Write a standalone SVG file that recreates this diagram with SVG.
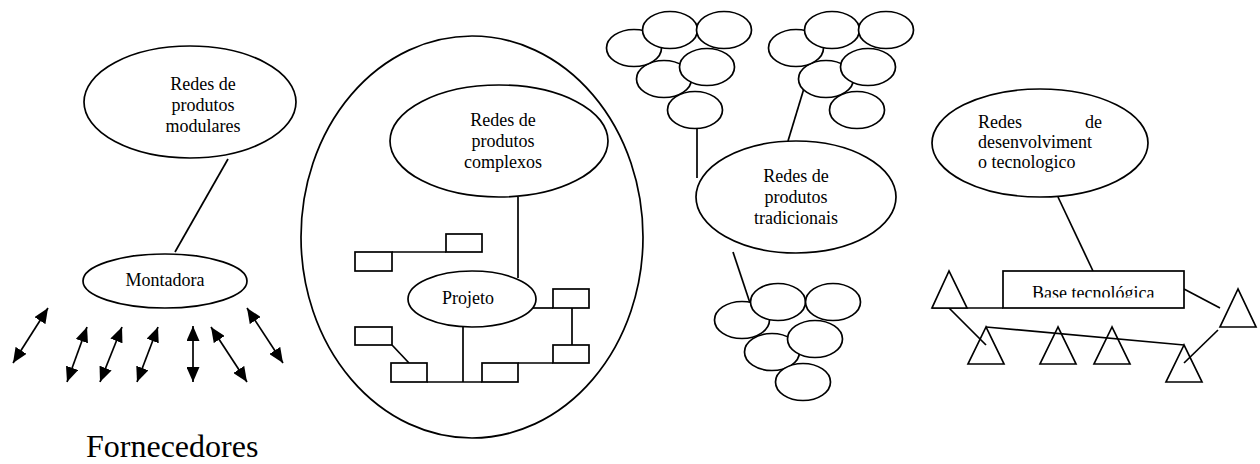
<svg xmlns="http://www.w3.org/2000/svg" width="1260" height="464" viewBox="0 0 1260 464">
<style>
.s{fill:#fff;stroke:#000;stroke-width:1.7}
.n{fill:none;stroke:#000;stroke-width:1.7}
.c{fill:none;stroke:#000;stroke-width:1.7}
.t{font-family:"Liberation Serif","Times New Roman",serif;font-size:18px;fill:#000}
.m{text-anchor:middle}
</style>
<defs>
<marker id="ah" viewBox="0 0 15 13" refX="15" refY="6.5" markerWidth="15" markerHeight="13" markerUnits="userSpaceOnUse" orient="auto-start-reverse">
<path d="M0,0 L15,6.5 L0,13 z" fill="#000"/>
</marker>
<clipPath id="baseclip"><rect x="1003" y="271" width="181" height="26.5"/></clipPath>
</defs>
<rect width="1260" height="464" fill="#fff"/>

<g id="big-ellipse"><ellipse class="n" cx="472" cy="237" rx="171" ry="201"/></g>

<g id="connectors">
<line class="c" x1="228" y1="159" x2="175" y2="252"/>
<line class="c" x1="518" y1="197" x2="518" y2="278"/>
<line class="c" x1="392" y1="252" x2="446" y2="252"/>
<line class="c" x1="533" y1="308" x2="553" y2="308"/>
<line class="c" x1="572" y1="308" x2="572" y2="345"/>
<line class="c" x1="392" y1="345" x2="409" y2="363"/>
<line class="c" x1="427" y1="382" x2="482" y2="382"/>
<line class="c" x1="463" y1="327" x2="463" y2="382"/>
<line class="c" x1="518" y1="363" x2="553" y2="363"/>
<line class="c" x1="697" y1="123" x2="697" y2="178"/>
<line class="c" x1="805" y1="85" x2="788" y2="141"/>
<line class="c" x1="733" y1="252" x2="750" y2="303"/>
<line class="c" x1="1058" y1="197" x2="1093" y2="271"/>
<line class="c" x1="932" y1="308" x2="1003" y2="308"/>
<line class="c" x1="949" y1="308" x2="986" y2="345"/>
<line class="c" x1="986" y1="327" x2="1184" y2="345"/>
<line class="c" x1="1184" y1="289" x2="1220" y2="308"/>
<line class="c" x1="1218" y1="330" x2="1184" y2="363"/>
<g id="fornecedor-arrows" marker-start="url(#ah)" marker-end="url(#ah)">
<line class="c" x1="13" y1="363" x2="48" y2="308" marker-start="url(#ah)" marker-end="url(#ah)"/>
<line class="c" x1="67" y1="382" x2="87" y2="327" marker-start="url(#ah)" marker-end="url(#ah)"/>
<line class="c" x1="100" y1="382" x2="122" y2="327" marker-start="url(#ah)" marker-end="url(#ah)"/>
<line class="c" x1="137" y1="382" x2="158" y2="327" marker-start="url(#ah)" marker-end="url(#ah)"/>
<line class="c" x1="193" y1="382" x2="193" y2="326" marker-start="url(#ah)" marker-end="url(#ah)"/>
<line class="c" x1="247" y1="382" x2="211" y2="327" marker-start="url(#ah)" marker-end="url(#ah)"/>
<line class="c" x1="283" y1="363" x2="247" y2="308" marker-start="url(#ah)" marker-end="url(#ah)"/>
</g>
</g>

<g id="modulares">
<ellipse class="s" cx="190" cy="102" rx="106" ry="56"/>
<text class="t m" x="203" y="90">Redes de</text>
<text class="t m" x="203" y="111">produtos</text>
<text class="t m" x="203" y="132">modulares</text>
</g>
<g id="montadora">
<ellipse class="s" cx="165" cy="281" rx="82" ry="27"/>
<text class="t m" x="165" y="286">Montadora</text>
</g>
<g id="fornecedores">
<text class="t" x="86" y="457" style="font-size:32px">Fornecedores</text>
</g>

<g id="complexos">
<ellipse class="s" cx="499" cy="141" rx="109" ry="56"/>
<text class="t m" x="503" y="126">Redes de</text>
<text class="t m" x="503" y="147">produtos</text>
<text class="t m" x="503" y="168">complexos</text>
</g>
<g id="projeto">
<ellipse class="s" cx="472" cy="299" rx="64" ry="28"/>
<text class="t m" x="468" y="304">Projeto</text>
</g>
<g id="modules">
<rect class="s" x="355" y="252" width="37" height="19"/>
<rect class="s" x="446" y="234" width="36" height="18"/>
<rect class="s" x="553" y="289" width="36" height="19"/>
<rect class="s" x="553" y="345" width="36" height="18"/>
<rect class="s" x="355" y="327" width="37" height="18"/>
<rect class="s" x="391" y="363" width="36" height="19"/>
<rect class="s" x="482" y="363" width="36" height="19"/>
</g>

<g id="cluster-top-left">
<ellipse class="s" cx="664" cy="79" rx="27.5" ry="18.5"/>
<ellipse class="s" cx="634" cy="48" rx="27.5" ry="18.5"/>
<ellipse class="s" cx="670" cy="30" rx="27.5" ry="18.5"/>
<ellipse class="s" cx="724" cy="30" rx="27.5" ry="18.5"/>
<ellipse class="s" cx="707" cy="67" rx="27.5" ry="18.5"/>
<ellipse class="s" cx="695" cy="110" rx="27.5" ry="18.5"/>
</g>
<g id="cluster-top-right">
<ellipse class="s" cx="826" cy="79" rx="27.5" ry="18.5"/>
<ellipse class="s" cx="796" cy="48" rx="27.5" ry="18.5"/>
<ellipse class="s" cx="832" cy="30" rx="27.5" ry="18.5"/>
<ellipse class="s" cx="886" cy="30" rx="27.5" ry="18.5"/>
<ellipse class="s" cx="868" cy="67" rx="27.5" ry="18.5"/>
<ellipse class="s" cx="857" cy="110" rx="27.5" ry="18.5"/>
</g>
<g id="tradicionais">
<ellipse class="s" cx="796" cy="197" rx="100" ry="56"/>
<text class="t m" x="796" y="182">Redes de</text>
<text class="t m" x="796" y="203">produtos</text>
<text class="t m" x="796" y="224">tradicionais</text>
</g>
<g id="cluster-bottom">
<ellipse class="s" cx="772" cy="352" rx="27.5" ry="18.5"/>
<ellipse class="s" cx="742" cy="320" rx="27.5" ry="18.5"/>
<ellipse class="s" cx="778" cy="302" rx="27.5" ry="18.5"/>
<ellipse class="s" cx="833" cy="302" rx="27.5" ry="18.5"/>
<ellipse class="s" cx="815" cy="339" rx="27.5" ry="18.5"/>
<ellipse class="s" cx="803" cy="382" rx="27.5" ry="18.5"/>
</g>

<g id="desenvolvimento">
<ellipse class="s" cx="1040" cy="143" rx="108" ry="54"/>
<text class="t" x="978" y="128">Redes</text>
<text class="t" x="1102" y="128" text-anchor="end">de</text>
<text class="t" x="978" y="148">desenvolviment</text>
<text class="t" x="978" y="168">o tecnologico</text>
</g>
<g id="base-tecnologica">
<rect class="s" x="1003" y="271" width="181" height="37"/>
<text class="t" x="1032" y="299" clip-path="url(#baseclip)">Base tecnológica</text>
</g>
<g id="triangles">
<polygon class="s" points="949,271 932,308 967,308"/>
<polygon class="n" points="986,327 968,364 1004,364"/>
<polygon class="n" points="1058,327 1040,364 1076,364"/>
<polygon class="n" points="1112,327 1094,364 1130,364"/>
<polygon class="n" points="1184,345 1166,382 1202,382"/>
<polygon class="s" points="1238,289 1220,327 1256,327"/>
</g>
</svg>
